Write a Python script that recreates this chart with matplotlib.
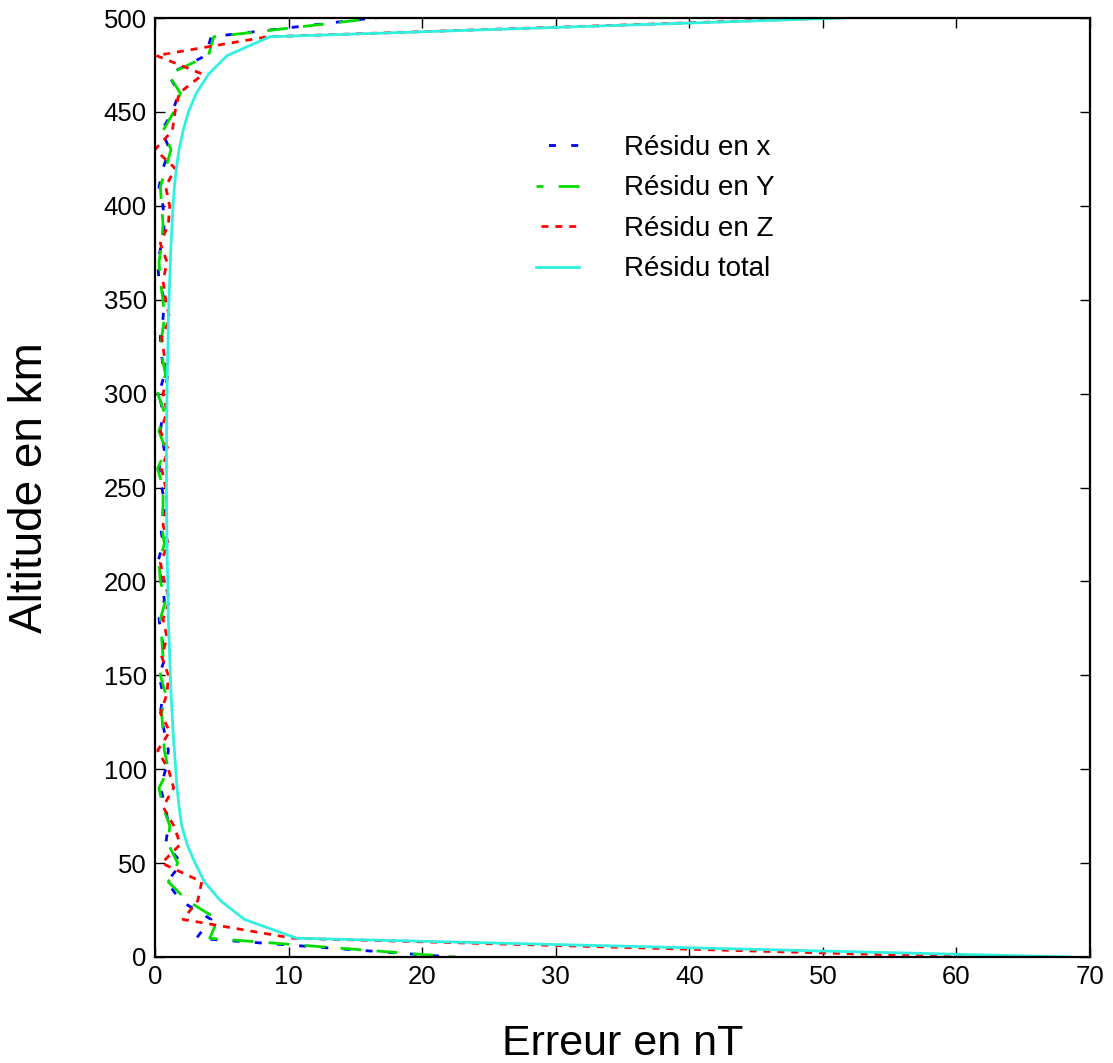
import matplotlib
matplotlib.use("Agg")
from matplotlib import pyplot as plt

plt.rcParams['font.family'] = ['Liberation Sans', 'DejaVu Sans']

# altitude grid (km), one sample every 10 km
altitude = list(range(0, 501, 10))

residu_x = [22.2, 3.1, 4.2, 1.9, 0.9, 2.0, 0.8, 1.0, 0.8, 0.4,
            0.8, 1.0, 0.7, 0.4, 0.6, 0.3, 0.8, 0.5, 0.3, 0.7,
            0.5, 0.2, 0.6, 0.4, 0.8, 0.5, 0.3, 0.7, 0.4, 0.6,
            0.3, 0.7, 0.5, 0.4, 0.6, 0.7, 0.3, 0.2, 0.5, 0.7,
            0.6, 0.3, 0.6, 1.1, 0.5, 1.3, 1.8, 1.0, 3.8, 4.2,
            16.3]

residu_y = [22.5, 4.1, 4.7, 2.4, 1.0, 1.7, 1.0, 1.1, 0.6, 0.3,
            1.0, 0.7, 0.6, 0.5, 0.8, 0.4, 0.6, 0.5, 0.4, 0.8,
            0.4, 0.3, 0.7, 0.5, 0.6, 0.6, 0.2, 0.8, 0.3, 0.7,
            0.2, 0.8, 0.5, 0.5, 0.7, 0.6, 0.4, 0.3, 0.5, 0.6,
            0.5, 0.4, 0.8, 1.2, 0.6, 1.4, 1.9, 1.0, 4.0, 4.4,
            16.6]

residu_z = [61.0, 10.3, 2.1, 3.2, 3.5, 0.5, 1.9, 1.4, 0.6, 1.4,
            1.0, 0.2, 1.1, 0.4, 0.9, 1.0, 0.5, 0.9, 0.6, 1.1,
            0.7, 0.4, 1.0, 0.6, 0.9, 0.8, 0.5, 1.0, 0.4, 0.9,
            0.6, 1.0, 0.7, 0.5, 1.1, 0.8, 0.6, 0.9, 0.4, 1.0,
            1.1, 0.8, 1.5, 0.0, 1.3, 1.5, 1.8, 3.6, 0.1, 8.4,
            50.8]

residu_total = [68.5, 10.6, 6.7, 4.9, 3.7, 3.0, 2.4, 2.0, 1.8, 1.65,
                1.55, 1.45, 1.35, 1.28, 1.2, 1.15, 1.1, 1.05, 1.0, 0.98,
                0.95, 0.92, 0.9, 0.88, 0.87, 0.86, 0.86, 0.86, 0.87, 0.88,
                0.9, 0.92, 0.95, 0.98, 1.0, 1.05, 1.1, 1.15, 1.2, 1.28,
                1.35, 1.45, 1.6, 1.8, 2.1, 2.5, 3.1, 4.0, 5.4, 8.6,
                51.5]

labels = ['Résidu en x', 'Résidu en Y', 'Résidu en Z', 'Résidu total']

fig = plt.figure(figsize=(11.13, 10.63), dpi=100)
ax = fig.add_axes([155 / 1113, 106 / 1063, 935 / 1113, 939 / 1063])

# dash patterns are in units of line width (lw=2)
ax.plot(residu_x, altitude, color='blue', lw=2, ls=(3.5, (2.5, 5.5)), label=labels[0])
ax.plot(residu_y, altitude, color='#00dd00', lw=2, ls=(5, (7.5, 5.5)), label=labels[1])
ax.plot(residu_z, altitude, color='red', lw=2, ls=(3.2, (2.5, 2.5)), label=labels[2])
ax.plot(residu_total, altitude, color='#30f0e0', lw=2, label=labels[3])

ax.set_xlim(0, 70)
ax.set_ylim(0, 500)
ax.set_xticks(range(0, 71, 10))
ax.set_yticks(range(0, 501, 50))
ax.tick_params(direction='in', length=7, width=1, labelsize=18.5, pad=6,
               top=True, right=True)
for s in ax.spines.values():
    s.set_linewidth(1.6)

ax.set_xlabel('Erreur en nT', fontsize=31)
ax.set_ylabel('Altitude en km', fontsize=33)
ax.xaxis.set_label_coords(0.5, -0.071)
ax.yaxis.set_label_coords(-0.110, 0.5)

ax.legend(loc='upper left', bbox_to_anchor=(0.4075, 0.8755), frameon=False,
          fontsize=20, handlelength=1.55, handletextpad=1.6, labelspacing=0.52,
          borderpad=0, borderaxespad=0)

fig.savefig('out.png', dpi=100)
